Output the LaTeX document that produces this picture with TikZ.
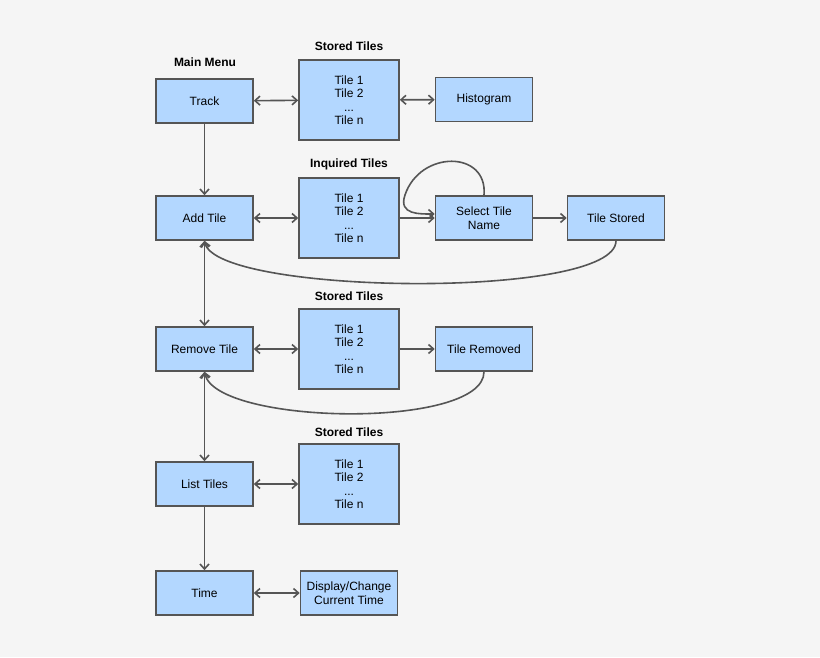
\documentclass[tikz,border=0pt]{standalone}
\usepackage{fontspec}
\setmainfont{Liberation Sans}
\usetikzlibrary{arrows.meta}
\definecolor{bg}{HTML}{F5F5F5}
\definecolor{boxfill}{HTML}{B3D7FF}
\definecolor{edge}{HTML}{555555}
\begin{document}
\begin{tikzpicture}[x=1pt,y=-1pt,
  box/.style={draw=edge,line width=1.6pt,fill=boxfill,minimum width=97pt,minimum height=44pt,align=center,font=\fontsize{12}{13.5}\selectfont,inner sep=1pt},
  tall/.style={box,minimum width=100pt,minimum height=80pt},
  ttl/.style={font=\fontsize{12}{14}\selectfont\bfseries},
  ar/.style={draw=edge,line width=1.6pt,-{Straight Barb[length=5pt,width=9pt]}},
  dar/.style={ar,{Straight Barb[length=5pt,width=9pt]}-{Straight Barb[length=5pt,width=9pt]}}]
\fill[bg] (0,0) rectangle (820,657);
\node[box] (track) at (204.5,101) {Track};
\node[tall] (s1) at (349,100) {Tile 1\\Tile 2\\...\\Tile n};
\node[box] (hist) at (484,99.5) {Histogram};
\node[box] (add) at (204.5,218) {Add Tile};
\node[tall] (inq) at (349,218) {Tile 1\\Tile 2\\...\\Tile n};
\node[box] (sel) at (484,218) {Select Tile\\Name};
\node[box] (stored) at (616,218) {Tile Stored};
\node[box] (rem) at (204.5,349) {Remove Tile};
\node[tall] (s3) at (349,349) {Tile 1\\Tile 2\\...\\Tile n};
\node[box] (removed) at (484,349) {Tile Removed};
\node[box] (list) at (204.5,484) {List Tiles};
\node[tall] (s4) at (349,484) {Tile 1\\Tile 2\\...\\Tile n};
\node[box] (time) at (204.5,593) {Time};
\node[box] (disp) at (349,593) {Display/Change\\Current Time};
\node[ttl] (t0) at (205,62) {Main Menu};
\node[ttl] (t1) at (349,46) {Stored Tiles};
\node[ttl] (t2) at (349,164) {Inquired Tiles};
\node[ttl] (t3) at (349,296) {Stored Tiles};
\node[ttl] (t4) at (349,432) {Stored Tiles};
\draw[dar] (track) -- (s1);
\draw[dar] (s1) -- (hist);
\draw[ar] (track) -- (add);
\draw[dar] (add) -- (inq);
\draw[ar] (inq) -- (sel);
\draw[ar] (sel) -- (stored);
\draw[ar] (sel.north) .. controls (488,150) and (420,150) .. (405,195) .. controls (398,215) and (420,214) .. (sel.west|-0,214);
\draw[ar] (stored.south) .. controls (616,300) and (215,295) .. (add.south);
\draw[dar] (add) -- (rem);
\draw[dar] (rem) -- (s3);
\draw[ar] (s3) -- (removed);
\draw[ar] (removed.south) .. controls (484,430) and (215,425) .. (rem.south);
\draw[dar] (rem) -- (list);
\draw[dar] (list) -- (s4);
\draw[ar] (list) -- (time);
\draw[dar] (time) -- (disp);
\end{tikzpicture}
\end{document}
